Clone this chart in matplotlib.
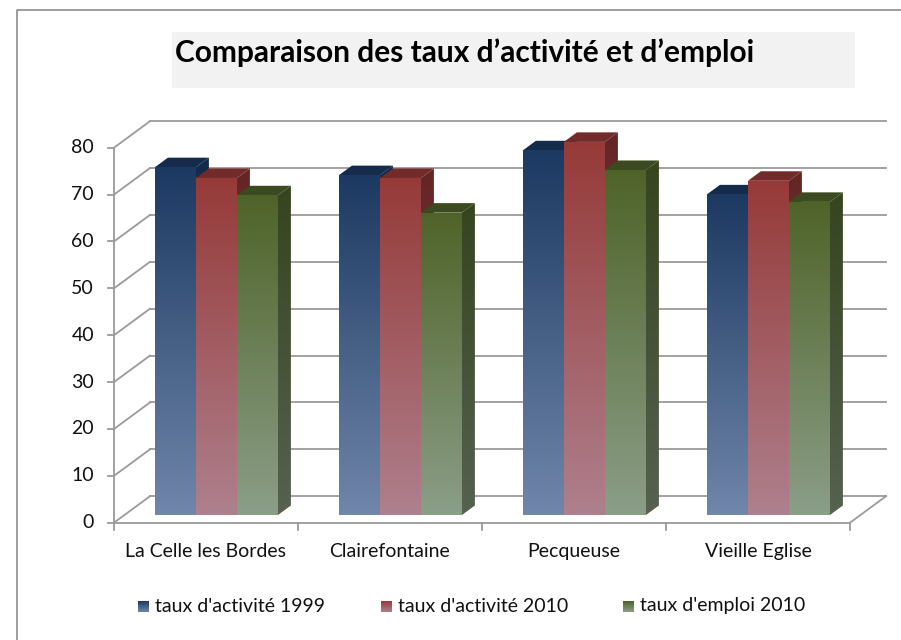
import numpy as np
import matplotlib.pyplot as plt
from matplotlib.patches import Polygon, Rectangle
from matplotlib.colors import LinearSegmentedColormap

plt.rcParams['font.family'] = ['Lato', 'DejaVu Sans']

# ---------------------------------------------------------------------------
communes = ["La Celle les Bordes", "Clairefontaine", "Pecqueuse", "Vieille Eglise"]
series_names = ["taux d'activité 1999", "taux d'activité 2010", "taux d'emploi 2010"]
activite_1999 = [74.2, 72.5, 77.8, 68.4]
activite_2010 = [71.9, 71.9, 79.6, 71.3]
emploi_2010 = [68.2, 64.5, 73.6, 66.8]
y_ticks = [0, 10, 20, 30, 40, 50, 60, 70, 80]
title = "Comparaison des taux d’activité et d’emploi"

# front gradient (top, bottom), top face, side gradient (top, bottom)
palette = [
    dict(front=("#1c3961", "#7086aa"), top="#142b4b", side=("#13294a", "#4a5a78")),
    dict(front=("#963a38", "#ae808d"), top="#732b29", side=("#642524", "#7a5058")),
    dict(front=("#4f6329", "#8b9e88"), top="#3c4b1f", side=("#36441f", "#566150")),
]
# ---------------------------------------------------------------------------

W, H = 901, 640
X0, CW = 114, 184.0          # pixel x of the front axis, width of one category
Y0, VS = 522.7, 375 / 80.0   # pixel y of value 0, pixels per unit

DX, DY = 36 / CW, 26.5 / VS  # offset of the back wall
F0, F1 = 0.29, 0.65          # depth of bar front / back faces
BW = 41 / CW                 # bar width
GRID = "#9a9a9a"
TXT = "#111111"


def px(x, y):
    """ pixel position -> data coordinates """
    return (x - X0) / CW, (Y0 - y) / VS


def gradient_fill(ax, verts, c_top, c_bottom, z):
    poly = Polygon(verts, closed=True, facecolor="none", edgecolor="none", zorder=z)
    ax.add_patch(poly)
    xs = [p[0] for p in verts]
    ys = [p[1] for p in verts]
    cmap = LinearSegmentedColormap.from_list("g", [c_bottom, c_top])
    grad = np.linspace(0, 1, 256).reshape(-1, 1)
    im = ax.imshow(grad, cmap=cmap, origin="lower", aspect="auto", interpolation="bilinear",
                   extent=(min(xs), max(xs), min(ys), max(ys)), zorder=z)
    im.set_clip_path(poly)


fig = plt.figure(figsize=(W / 100, H / 100), dpi=100)
ax = fig.add_axes([0, 0, 1, 1])
ax.axis("off")

# outer frame
x_left, y_top = px(17, 10)
x_right, y_bot = px(W + 5, H + 5)
ax.plot([x_left, x_left, x_right], [y_bot, y_top, y_top], color="#8c8c8c", lw=1.2, zorder=1)

# title box
bx0, by0 = px(172, 88)
bx1, by1 = px(855, 32)
ax.add_patch(Rectangle((bx0, by0), bx1 - bx0, by1 - by0, facecolor="#f2f2f2", edgecolor="none", zorder=1))
tx, ty = px(175, 62)
ax.text(tx, ty, title, fontsize=21.5, fontweight="bold", ha="left", va="baseline", zorder=2)

# walls, floor and axes
n = len(communes)
for v in y_ticks:
    ax.plot([0, DX], [v, v + DY], color=GRID, lw=1.3, zorder=2)
    ax.plot([DX, n + DX], [v + DY, v + DY], color=GRID, lw=1.3, zorder=2)
    ax.plot([-6 / CW, 0], [v, v], color=GRID, lw=1.3, zorder=2)
    ax.text(-20 / CW, v, str(v), fontsize=14, ha="right", va="center", color=TXT)
ax.plot([0, 0], [0, y_ticks[-1]], color=GRID, lw=1.3, zorder=2)
ax.plot([0, n], [0, 0], color=GRID, lw=1.3, zorder=2)
ax.plot([n, n + DX], [0, DY], color=GRID, lw=1.3, zorder=2)
for i in range(n + 1):
    ax.plot([i, i], [0, -7.5 / VS], color=GRID, lw=1.3, zorder=2)
for i, name in enumerate(communes):
    ax.text(i + 0.5, -29 / VS, name, fontsize=14, ha="center", va="center", color=TXT)

# bars
values = [activite_1999, activite_2010, emploi_2010]
ddx, ddy = (F1 - F0) * DX, (F1 - F0) * DY
z = 10
for i in range(n):
    for j, vals in enumerate(values):
        h = vals[i]
        col = palette[j]
        xl = i + 0.5 - 1.5 * BW + j * BW + F0 * DX
        yb = F0 * DY
        xr = xl + BW
        side = [(xr, yb), (xr + ddx, yb + ddy), (xr + ddx, yb + h + ddy), (xr, yb + h)]
        top = [(xl, yb + h), (xr, yb + h), (xr + ddx, yb + h + ddy), (xl + ddx, yb + h + ddy)]
        front = [(xl, yb), (xr, yb), (xr, yb + h), (xl, yb + h)]
        gradient_fill(ax, side, col["side"][0], col["side"][1], z)
        ax.add_patch(Polygon(top, closed=True, facecolor=col["top"], edgecolor="none", zorder=z + 1))
        gradient_fill(ax, front, col["front"][0], col["front"][1], z + 2)
        z += 3

# legend
for (lx, name), col in zip([(138, series_names[0]), (381, series_names[1]), (623, series_names[2])], palette):
    sx0, sy0 = px(lx, 612)
    sx1, sy1 = px(lx + 11, 601)
    gradient_fill(ax, [(sx0, sy0), (sx1, sy0), (sx1, sy1), (sx0, sy1)], col["front"][0], col["front"][1], z)
    lt_x, lt_y = px(lx + 17, 606)
    ax.text(lt_x, lt_y, name, fontsize=14, ha="left", va="center", color=TXT)

ax.set_xlim(-X0 / CW, (W - X0) / CW)
ax.set_ylim((Y0 - H) / VS, Y0 / VS)

fig.savefig("out.png", dpi=100)
